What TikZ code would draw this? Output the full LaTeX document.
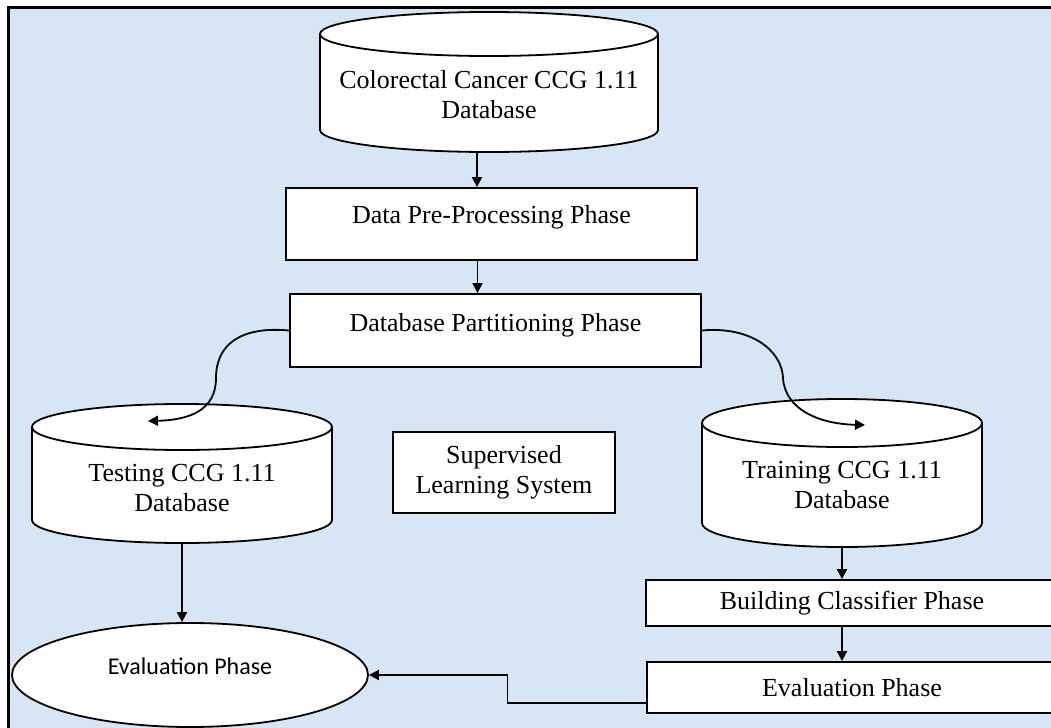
\documentclass[tikz,border=0pt]{standalone}
\usepackage{fontspec}
\setmainfont{Liberation Serif}
\newfontfamily\calibri{Carlito}
\usetikzlibrary{positioning,arrows.meta,shapes.geometric,calc}
\definecolor{bgblue}{RGB}{214,230,245}

% database drum: centre x, centre y, width, height, end radius (pixels)
\newcommand\dbcyl[5]{%
  \filldraw[line width=0.9pt,fill=white] ({#1-#3/2},{#2-#4/2+#5}) -- ({#1-#3/2},{#2+#4/2-#5})
    arc[start angle=180,end angle=360,x radius={#3*0.25pt},y radius={#5*0.5pt}]
    -- ({#1+#3/2},{#2-#4/2+#5})
    arc[start angle=0,end angle=180,x radius={#3*0.25pt},y radius={#5*0.5pt}] -- cycle;
  \draw[line width=0.9pt] ({#1-#3/2},{#2-#4/2+#5})
    arc[start angle=180,end angle=360,x radius={#3*0.25pt},y radius={#5*0.5pt}];
}

\begin{document}
\begin{tikzpicture}[x=0.5pt,y=-0.5pt,
  >={Triangle[length=5pt,width=5pt]},
  every node/.style={font=\fontsize{13pt}{15pt}\selectfont},
  phase/.style={draw,fill=white,line width=0.9pt,inner sep=0pt,align=center},
  toptext/.style={text height=9pt,text depth=#1},
  db/.style={rectangle,inner sep=0pt},
  dbtext/.style={align=center},
  conn/.style={line width=0.9pt}]

\clip (0,0) rectangle (1051,728);
\fill[white] (0,0) rectangle (1051,728);
\fill[bgblue] (8,7) rectangle (1051,728);
\draw[line width=1.5pt] (8,728) -- (8,7) -- (1051,7);

% databases
\dbcyl{489}{82}{338}{140}{22}
\node[db,minimum width=169pt,minimum height=70pt,
  label={[name=srctext,dbtext,yshift=-6.5pt]center:Colorectal Cancer CCG 1.11\\Database}] (src) at (489,82) {};
\dbcyl{182}{473.5}{300}{139}{23}
\node[db,minimum width=150pt,minimum height=69.5pt,
  label={[name=testtext,dbtext,yshift=-7.25pt]center:Testing CCG 1.11\\Database}] (test) at (182,473.5) {};
\dbcyl{842}{473}{280}{148}{24}
\node[db,minimum width=140pt,minimum height=74pt,
  label={[name=traintext,dbtext,yshift=-6.25pt]center:Training CCG 1.11\\Database}] (train) at (842,473) {};

% phases
\node[phase,toptext=10pt,minimum width=205.5pt,minimum height=36pt] (prep) at (491.5,224) {Data Pre-Processing Phase};
\node[phase,toptext=8pt,minimum width=205.5pt,minimum height=36.5pt] (part) at (495.5,330.5) {Database Partitioning Phase};
\node[phase,minimum width=111pt,minimum height=40.5pt] (sup) at (504,472.5) {Supervised\\Learning System};
\node[phase,minimum width=206pt,minimum height=23pt] (build) at (852,603) {Building Classifier Phase};
\node[phase,minimum width=205pt,minimum height=25.5pt] (evalbox) at (852,687.5) {Evaluation Phase};
\node[ellipse,draw,fill=white,line width=0.9pt,inner sep=0pt,minimum width=178pt,minimum height=52pt,
  toptext=10pt,font=\calibri\fontsize{12pt}{14pt}\selectfont] (evalell) at (190,675) {Evaluation Phase};

\coordinate (testin) at (148,421);
\coordinate (trainin) at (865,425);

% connectors
\draw[conn,->] ([xshift=-6pt]src.south) -- ([xshift=-6pt]src.south |- prep.north);
\draw[conn,->] ([xshift=-7pt]prep.south) -- ([xshift=-7pt]prep.south |- part.north);
\draw[conn,->] (part.west) .. controls (240,326) and (216,345) .. (216,378)
  .. controls (216,410) and (190,420) .. (testin);
\draw[conn,->] (part.east) .. controls (750,326) and (782,350) .. (783,378)
  .. controls (785,410) and (820,424) .. (trainin);
\draw[conn,->] (test.south) -- (test.south |- evalell.north);
\draw[conn,->] (train.south) -- (train.south |- build.north);
\draw[conn,->] (build.south -| train.south) -- (train.south |- evalbox.north);
\draw[conn,->] ([yshift=-7.75pt]evalbox.west) -| ($(evalell.east)!.5!(evalbox.west)$) |- (evalell.east);

\end{tikzpicture}
\end{document}
